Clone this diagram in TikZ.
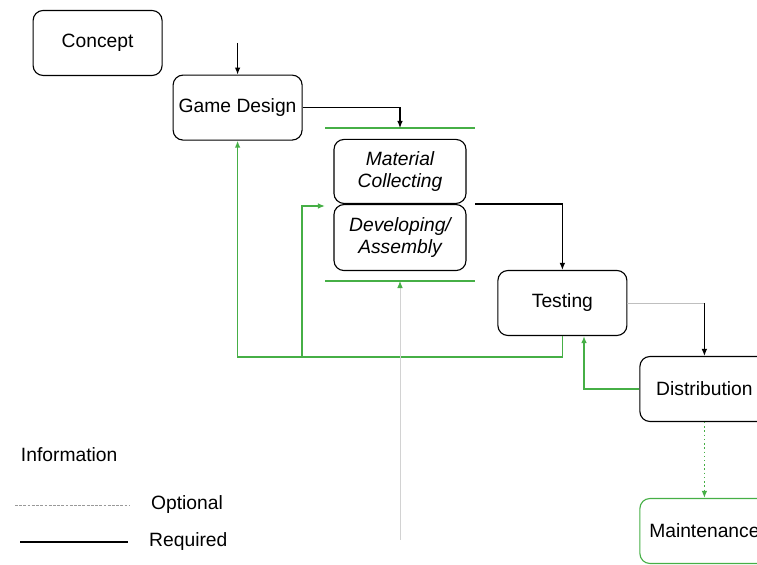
\documentclass[tikz,border=0pt]{standalone}
\usepackage{fontspec}
\setmainfont{Liberation Sans}
\usetikzlibrary{arrows.meta}
\definecolor{flowgreen}{RGB}{70,175,70}
\tikzset{
    stage/.style={draw,rounded corners=0.25cm,minimum width=3.225cm,minimum height=1.625cm,align=center,font=\fontsize{13.7}{16}\selectfont,line width=0.8pt},
    req/.style={line width=0.8pt,-{Latex[length=5pt,width=4pt]}},
    back/.style={flowgreen,line width=1pt,-{Latex[length=5pt,width=4pt]}},
    opt/.style={gray!80,line width=0.6pt,dash pattern=on 2pt off 1pt}
}
\begin{document}
\begin{tikzpicture}
    \clip (0,0) rectangle (18.925,-14.125);
    %% Stages
    \node[stage] (concept) at (2.44,-1.075) {Concept};
    \node[stage] (gd) at (5.94,-2.69) {Game Design};
    \node[stage,font=\fontsize{13.7}{16}\selectfont\itshape,minimum width=3.3cm,minimum height=1.6cm,anchor=south] (mat) at (10,-5.1) {Material\\Collecting};
    \node[stage,font=\fontsize{13.7}{16}\selectfont\itshape,minimum width=3.3cm,minimum height=1.65cm,anchor=north] (dev) at (10,-5.1) {Developing/\\Assembly};
    \node[stage] (test) at (14.06,-7.575) {Testing};
    \node[stage] (dist) at (17.61,-9.725) {Distribution};
    \node[stage,draw=flowgreen] (maint) at (17.61,-13.275) {Maintenance};
    %% Bars round the production block
    \coordinate (bartop) at (10,-3.2);
    \coordinate (barbot) at (10,-7.025);
    \draw[flowgreen,line width=0.8pt] (8.125,-3.2) -- (11.875,-3.2);
    \draw[flowgreen,line width=0.8pt] (8.125,-7.025) -- (11.875,-7.025);
    %% Required flow
    \coordinate (start) at (5.94,-1.075);
    \draw[req] (start) -- (gd.north);
    \draw[req] (gd.east) -| (bartop);
    \draw[req] ([xshift=0.22cm]mat.south east) -| (test.north);
    \coordinate (turn) at (17.61,-7.575);
    \draw[gray!50,line width=0.6pt] (test.east) -- (turn);
    \draw[req] (turn) -- (dist.north);
    %% Feedback
    \coordinate (low) at (14.06,-8.925);
    \draw[back] (test.south) -- (low) -| (gd.south);
    \draw[back] (7.55,-8.925) |- (8.125,-5.15);
    \draw[back] (dist.west) -| ([xshift=0.54cm]test.south);
    \coordinate (foot) at (10,-13.5);
    \draw[gray!35,line width=0.6pt,-{Latex[length=5pt,width=4pt,flowgreen]}] (foot) -- (barbot);
    \draw[back,dotted] (dist.south) -- (maint.north);
    %% Legend
    \node[anchor=west,font=\fontsize{13.7}{16}\selectfont] (info) at (0.4,-11.375) {Information};
    \draw[opt] (0.375,-12.625) -- (3.25,-12.625) node[anchor=west,black,font=\fontsize{13.7}{16}\selectfont] (optl) at (3.65,-12.625) {Optional};
    \draw[line width=0.8pt] (0.5,-13.55) -- (3.2,-13.55) node[anchor=west,black,font=\fontsize{13.7}{16}\selectfont] (reql) at (3.6,-13.55) {Required};
\end{tikzpicture}
\end{document}
